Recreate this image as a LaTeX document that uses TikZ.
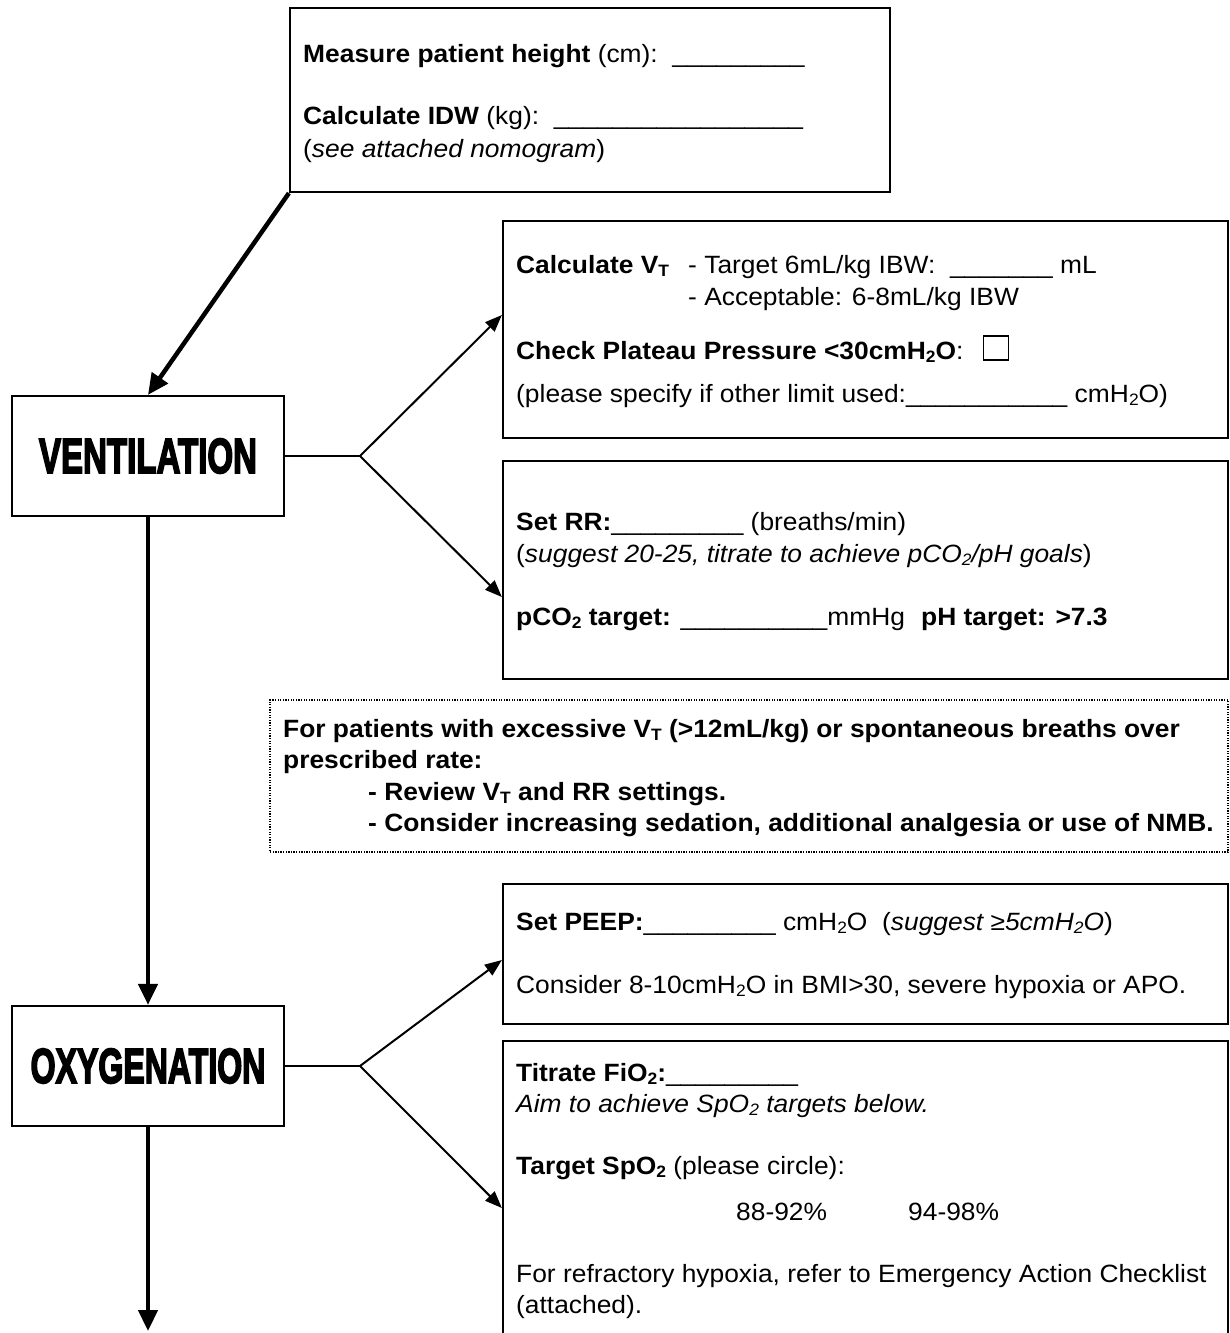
\documentclass[tikz,border=0pt]{standalone}
\usepackage{fontspec}
\usepackage{graphicx}
\setmainfont{Liberation Sans}[FakeStretch=1.055]
\newfontfamily\headfont{Liberation Sans}[FakeBold=4]
\usetikzlibrary{arrows.meta,calc}
\newcommand\lsub[1]{\raisebox{-0.3ex}{\fontsize{16.5}{16.5}\selectfont #1}}
\newcommand\headtext[2]{\scalebox{#1}[1]{\headfont\bfseries\fontsize{49}{49}\selectfont #2}}
\tikzset{
  box/.style={draw, line width=2.2pt, inner sep=0pt},
  dbox/.style={draw, line width=1.3pt, dash pattern=on 1.3pt off 1.3pt, inner sep=0pt},
  txt/.style={anchor=base west, inner sep=0pt, font=\fontsize{25}{32}\selectfont},
  bigarrow/.style={line width=4.5pt, -{Triangle[length=21pt,width=19pt]}},
  thinline/.style={line width=2pt},
  thinarrow/.style={line width=2pt, -{Triangle[length=17pt,width=13pt]}}
}
\begin{document}
\begin{tikzpicture}[x=1pt,y=-1pt]
\useasboundingbox (0,0) rectangle (1230,1333);
\clip (0,0) rectangle (1230,1333);
% boxes
\node[box, minimum width=600pt, minimum height=184pt] (top) at (590,100) {};
\node[box, minimum width=272pt, minimum height=120pt] (vent) at (148,456) {\headtext{0.675}{VENTILATION}};
\node[box, minimum width=725pt, minimum height=217pt] (v1) at (865.5,329.5) {};
\node[box, minimum width=725pt, minimum height=218pt] (v2) at (865.5,570) {};
\node[dbox, minimum width=958pt, minimum height=152pt] (warn) at (749,776) {};
\node[box, minimum width=725pt, minimum height=140pt] (o1) at (865.5,954) {};
\node[box, minimum width=725pt, minimum height=310pt] (o2) at (865.5,1196) {};
\node[box, minimum width=272pt, minimum height=120pt] (oxy) at (148,1066) {\headtext{0.655}{OXYGENATION}};
\node[draw, line width=1.5pt, minimum width=25pt, minimum height=24pt, inner sep=0pt] (chk) at (996,348) {};
% connectors
\draw[bigarrow] (top.south west) -- (vent.north);
\coordinate (vs) at (360,456);
\draw[thinline] (vent.east) -- (vs);
\draw[thinarrow] (vs) -- ([yshift=14.5pt]v1.west);
\draw[thinarrow] (vs) -- ([yshift=-27pt]v2.west);
\draw[bigarrow] (vent.south) -- (oxy.north);
\coordinate (os) at (360,1066);
\draw[thinline] (oxy.east) -- (os);
\draw[thinarrow] (os) -- ([yshift=-6pt]o1.west);
\draw[thinarrow] (os) -- ([yshift=-12pt]o2.west);
\coordinate (bot) at (148,1331);
\draw[bigarrow] (oxy.south) -- (bot);
% top box text
\node[txt] (t1) at (303,62) {\textbf{Measure patient height} (cm):\ \ \_\_\_\_\_\_\_\_\_};
\node[txt] (t2) at (303,124) {\textbf{Calculate IDW} (kg):\ \ \_\_\_\_\_\_\_\_\_\_\_\_\_\_\_\_\_};
\node[txt] (t3) at (303,157) {(\textit{see attached nomogram})};
% v1 text
\node[txt] (v1a) at (516,273) {\textbf{Calculate V\lsub{T}}};
\node[txt] (v1b) at (688,273) {- Target 6mL/kg IBW:\ \ \_\_\_\_\_\_\_ mL};
\node[txt] (v1c) at (688,305) {- Acceptable: 6-8mL/kg IBW};
\node[txt] (v1d) at (516,359) {\textbf{Check Plateau Pressure <30cmH\lsub{2}O}:};
\node[txt] (v1e) at (516,402) {(please specify if other limit used:\_\_\_\_\_\_\_\_\_\_\_ cmH\lsub{2}O)};
% v2 text
\node[txt] (v2a) at (516,530) {\textbf{Set RR:}\_\_\_\_\_\_\_\_\_ (breaths/min)};
\node[txt] (v2b) at (516,562) {(\textit{suggest 20-25, titrate to achieve pCO\lsub{2}/pH goals})};
\node[txt] (v2c) at (516,625) {\textbf{pCO\lsub{2} target:} \_\_\_\_\_\_\_\_\_\_mmHg};
\node[txt] (v2d) at (921,625) {\textbf{pH target: >7.3}};
% warning text
\node[txt] (w1) at (283,737) {\textbf{For patients with excessive V\lsub{T} (>12mL/kg) or spontaneous breaths over}};
\node[txt] (w2) at (283,768) {\textbf{prescribed rate:}};
\node[txt] (w3) at (368,800) {\textbf{- Review V\lsub{T} and RR settings.}};
\node[txt] (w4) at (368,831) {\textbf{- Consider increasing sedation, additional analgesia or use of NMB.}};
% o1 text
\node[txt] (o1a) at (516,930) {\textbf{Set PEEP:}\_\_\_\_\_\_\_\_\_ cmH\lsub{2}O\ \ (\textit{suggest ≥5cmH\lsub{2}O})};
\node[txt] (o1b) at (516,993) {Consider 8-10cmH\lsub{2}O in BMI>30, severe hypoxia or APO.};
% o2 text
\node[txt] (o2a) at (516,1081) {\textbf{Titrate FiO\lsub{2}:}\_\_\_\_\_\_\_\_\_};
\node[txt] (o2b) at (516,1112) {\textit{Aim to achieve SpO\lsub{2} targets below.}};
\node[txt] (o2c) at (516,1174) {\textbf{Target SpO\lsub{2}} (please circle):};
\node[txt] (o2d) at (736,1220) {88-92\%};
\node[txt] (o2e) at (908,1220) {94-98\%};
\node[txt] (o2f) at (516,1282) {For refractory hypoxia, refer to Emergency Action Checklist};
\node[txt] (o2g) at (516,1313) {(attached).};
\end{tikzpicture}
\end{document}
